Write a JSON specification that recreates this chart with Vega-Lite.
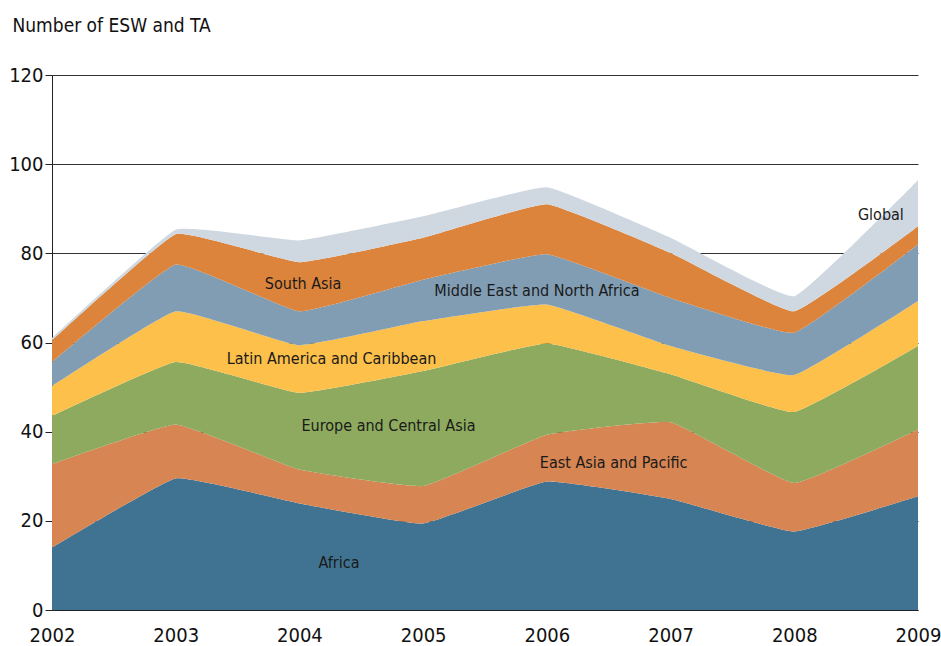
{
  "$schema": "https://vega.github.io/schema/vega-lite/v6.json",
  "width": 866,
  "height": 535,
  "autosize": "none",
  "padding": {"left": 52, "top": 75, "right": 23, "bottom": 36},
  "background": "white",
  "config": {"view": {"stroke": null}, "font": "'DejaVu Sans Condensed', 'Liberation Sans', sans-serif"},
  "datasets": {
    "series": [
      {"year": 2002, "region": "Africa", "value": 14.0},
      {"year": 2002, "region": "East Asia and Pacific", "value": 18.7},
      {"year": 2002, "region": "Europe and Central Asia", "value": 10.8},
      {"year": 2002, "region": "Latin America and Caribbean", "value": 6.7},
      {"year": 2002, "region": "Middle East and North Africa", "value": 5.4},
      {"year": 2002, "region": "South Asia", "value": 4.9},
      {"year": 2002, "region": "Global", "value": 0.5},
      {"year": 2003, "region": "Africa", "value": 29.5},
      {"year": 2003, "region": "East Asia and Pacific", "value": 12.1},
      {"year": 2003, "region": "Europe and Central Asia", "value": 14.0},
      {"year": 2003, "region": "Latin America and Caribbean", "value": 11.4},
      {"year": 2003, "region": "Middle East and North Africa", "value": 10.5},
      {"year": 2003, "region": "South Asia", "value": 6.8},
      {"year": 2003, "region": "Global", "value": 1.0},
      {"year": 2004, "region": "Africa", "value": 23.9},
      {"year": 2004, "region": "East Asia and Pacific", "value": 7.6},
      {"year": 2004, "region": "Europe and Central Asia", "value": 17.2},
      {"year": 2004, "region": "Latin America and Caribbean", "value": 10.7},
      {"year": 2004, "region": "Middle East and North Africa", "value": 7.6},
      {"year": 2004, "region": "South Asia", "value": 11.0},
      {"year": 2004, "region": "Global", "value": 4.9},
      {"year": 2005, "region": "Africa", "value": 19.4},
      {"year": 2005, "region": "East Asia and Pacific", "value": 8.4},
      {"year": 2005, "region": "Europe and Central Asia", "value": 25.8},
      {"year": 2005, "region": "Latin America and Caribbean", "value": 11.2},
      {"year": 2005, "region": "Middle East and North Africa", "value": 9.3},
      {"year": 2005, "region": "South Asia", "value": 9.4},
      {"year": 2005, "region": "Global", "value": 4.8},
      {"year": 2006, "region": "Africa", "value": 28.8},
      {"year": 2006, "region": "East Asia and Pacific", "value": 10.5},
      {"year": 2006, "region": "Europe and Central Asia", "value": 20.5},
      {"year": 2006, "region": "Latin America and Caribbean", "value": 8.7},
      {"year": 2006, "region": "Middle East and North Africa", "value": 11.3},
      {"year": 2006, "region": "South Asia", "value": 11.2},
      {"year": 2006, "region": "Global", "value": 3.8},
      {"year": 2007, "region": "Africa", "value": 24.9},
      {"year": 2007, "region": "East Asia and Pacific", "value": 17.2},
      {"year": 2007, "region": "Europe and Central Asia", "value": 10.8},
      {"year": 2007, "region": "Latin America and Caribbean", "value": 6.3},
      {"year": 2007, "region": "Middle East and North Africa", "value": 10.8},
      {"year": 2007, "region": "South Asia", "value": 10.1},
      {"year": 2007, "region": "Global", "value": 3.4},
      {"year": 2008, "region": "Africa", "value": 17.6},
      {"year": 2008, "region": "East Asia and Pacific", "value": 10.9},
      {"year": 2008, "region": "Europe and Central Asia", "value": 15.9},
      {"year": 2008, "region": "Latin America and Caribbean", "value": 8.3},
      {"year": 2008, "region": "Middle East and North Africa", "value": 9.5},
      {"year": 2008, "region": "South Asia", "value": 4.8},
      {"year": 2008, "region": "Global", "value": 3.4},
      {"year": 2009, "region": "Africa", "value": 25.5},
      {"year": 2009, "region": "East Asia and Pacific", "value": 15.0},
      {"year": 2009, "region": "Europe and Central Asia", "value": 18.7},
      {"year": 2009, "region": "Latin America and Caribbean", "value": 10.1},
      {"year": 2009, "region": "Middle East and North Africa", "value": 12.7},
      {"year": 2009, "region": "South Asia", "value": 4.1},
      {"year": 2009, "region": "Global", "value": 10.3}
    ],
    "labels": [
      {"label": "South Asia", "x": 2004.03, "y": 73.1},
      {"label": "Middle East and North Africa", "x": 2005.92, "y": 71.6},
      {"label": "Latin America and Caribbean", "x": 2004.26, "y": 56.3},
      {"label": "Europe and Central Asia", "x": 2004.72, "y": 41.3},
      {"label": "East Asia and Pacific", "x": 2006.54, "y": 33.0},
      {"label": "Africa", "x": 2004.32, "y": 10.5},
      {"label": "Global", "x": 2008.70, "y": 88.6}
    ]
  },
  "layer": [
    {
      "data": {"name": "series"},
      "transform": [
        {"calculate": "indexof(['Africa','East Asia and Pacific','Europe and Central Asia','Latin America and Caribbean','Middle East and North Africa','South Asia','Global'], datum.region)", "as": "rank"}
      ],
      "mark": {"type": "area", "interpolate": "cardinal", "tension": 0.7},
      "encoding": {
        "x": {
          "field": "year", "type": "quantitative",
          "scale": {"domain": [2002, 2009], "nice": false, "zero": false},
          "axis": {
            "values": [2002, 2003, 2004, 2005, 2006, 2007, 2008, 2009],
            "format": "d", "title": null, "grid": false, "ticks": false,
            "labelFontSize": 20, "labelColor": "#111", "labelPadding": 15,
            "labelFlush": false, "domainColor": "#222", "domainWidth": 1
          }
        },
        "y": {
          "field": "value", "type": "quantitative", "stack": "zero",
          "scale": {"domain": [0, 120], "nice": false},
          "axis": {
            "values": [0, 20, 40, 60, 80, 100, 120],
            "title": "Number of ESW and TA",
            "titleAngle": 0, "titleAlign": "left", "titleBaseline": "alphabetic",
            "titleX": -40, "titleY": -44, "titleFontSize": 19, "titleFontWeight": "normal", "titleColor": "#111",
            "labelFontSize": 20, "labelColor": "#111", "labelPadding": 2,
            "tickSize": 7, "tickColor": "#222", "domainColor": "#222",
            "grid": true, "gridColor": "#333", "gridWidth": 1
          }
        },
        "color": {
          "field": "region", "type": "nominal",
          "scale": {
            "domain": ["Africa", "East Asia and Pacific", "Europe and Central Asia", "Latin America and Caribbean", "Middle East and North Africa", "South Asia", "Global"],
            "range": ["#3f7391", "#d68553", "#8daa5f", "#fdc04a", "#819db3", "#dc843c", "#cfd8e1"]
          },
          "legend": null
        },
        "order": {"field": "rank", "type": "quantitative"}
      }
    },
    {
      "data": {"name": "labels"},
      "mark": {"type": "text", "fontSize": 16, "color": "#1a1a1a", "align": "center", "baseline": "middle"},
      "encoding": {
        "x": {"field": "x", "type": "quantitative"},
        "y": {"field": "y", "type": "quantitative"},
        "text": {"field": "label"}
      }
    }
  ]
}
